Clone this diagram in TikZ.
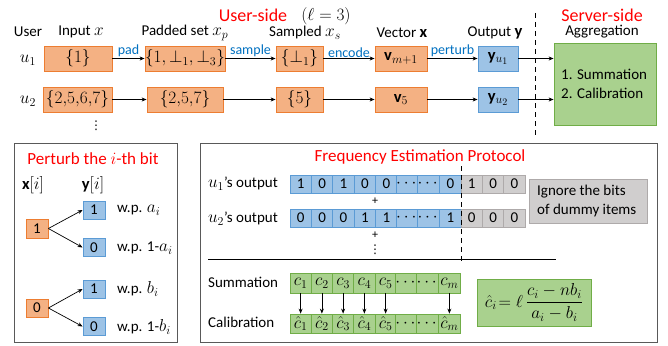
\documentclass[tikz,border=0pt]{standalone}
\usepackage{fontspec}
\setmainfont{Carlito}
\newfontfamily\dvfont{DejaVu Sans}
\usepackage{amsmath}
\DeclareMathSizes{15}{16.5}{12}{10}
\usetikzlibrary{arrows.meta}
\definecolor{orF}{HTML}{F4B183}
\definecolor{orD}{HTML}{ED7D31}
\definecolor{blF}{HTML}{9DC3E6}
\definecolor{blD}{HTML}{5B9BD5}
\definecolor{grF}{HTML}{A9D18E}
\definecolor{grD}{HTML}{70AD47}
\definecolor{gyF}{HTML}{D0CECE}
\definecolor{gyD}{HTML}{AEAAAA}
\definecolor{lblue}{HTML}{0070C0}
\definecolor{panel}{HTML}{595959}
\tikzset{
  txt/.style={font=\fontsize{15}{18}\selectfont, inner sep=0pt},
  ttl/.style={font=\fontsize{18}{22}\selectfont, text=red, inner sep=0pt},
  sttl/.style={font=\fontsize{17}{20}\selectfont, text=red, inner sep=0pt},
  ob/.style={draw=orD, fill=orF, line width=0.8pt, minimum height=25, inner sep=0pt, font=\fontsize{15}{18}\selectfont},
  bb/.style={draw=blD, fill=blF, line width=0.8pt, minimum height=25, inner sep=0pt, font=\fontsize{15}{18}\selectfont},
  gb/.style={draw=grD, fill=grF, line width=0.8pt, inner sep=0pt, font=\fontsize{15}{18}\selectfont},
  yb/.style={draw=gyD, fill=gyF, line width=0.8pt, inner sep=0pt, font=\fontsize{15}{18}\selectfont},
  arr/.style={-{Stealth[length=5pt,width=4pt]}, line width=0.7pt},
  lab/.style={above, inner sep=1pt, text=lblue, font=\fontsize{14}{17}\selectfont},
  pnl/.style={draw=panel, line width=0.8pt},
  sml/.style={font=\fontsize{12}{14}\selectfont, inner sep=0pt},
  vdt/.style={font=\dvfont\fontsize{12}{14}\selectfont, inner sep=0pt},
}
\begin{document}
\begin{tikzpicture}[x=1pt,y=-1pt]
\useasboundingbox (0,0) rectangle (668,345);
% ---------------- top: user side -----------------
\node[ttl] (us) at (253,15) {User-side};
\node[txt] (ell) at (326,16) {$(\ell = 3)$};
\node[ttl] (ss) at (602,15) {Server-side};
\node[txt] (hU) at (28,32) {User};
\node[txt] (hI) at (81,32) {Input $x$};
\node[txt] (hP) at (185,33) {Padded set $x_p$};
\node[txt] (hS) at (305,33) {Sampled $x_s$};
\node[txt] (hV) at (402,33) {Vector $\mathbf{x}$};
\node[txt] (hO) at (495,33) {Output $\mathbf{y}$};
\node[txt] (hA) at (602,32) {Aggregation};
\node[txt] (u1) at (28,60) {$u_1$};
\node[txt] (u2) at (28,101) {$u_2$};
\node[vdt] (vd) at (96,126) {⋮};

\node[ob, minimum width=68] (a1) at (78,58.5) {$\{1\}$};
\node[ob, minimum width=69] (a2) at (77.5,99.5) {$\{2{,}5{,}6{,}7\}$};
\node[ob, minimum width=76] (p1) at (185,58.5) {$\{1,\bot_1,\bot_3\}$};
\node[ob, minimum width=76] (p2) at (185,99.5) {$\{2{,}5{,}7\}$};
\node[ob, minimum width=47] (s1) at (299.5,58.5) {$\{\bot_1\}$};
\node[ob, minimum width=47] (s2) at (299.5,99.5) {$\{5\}$};
\node[ob, minimum width=52] (v1) at (401,58.5) {$\mathbf{v}_{m+1}$};
\node[ob, minimum width=52] (v2) at (401,99.5) {$\mathbf{v}_5$};
\node[bb, minimum width=40] (y1) at (498,58.5) {$\mathbf{y}_{u_1}$};
\node[bb, minimum width=40] (y2) at (498,99.5) {$\mathbf{y}_{u_2}$};
\node[gb, minimum width=102, minimum height=82] (G) at (605,84) {};
\node[txt, anchor=west, align=left] (Gt) at (561,84) {1. Summation\\[1pt]2. Calibration};

\draw[arr] (a1) -- node[lab] {pad} (p1);
\draw[arr] (p1) -- node[lab] {sample} (s1);
\draw[arr] (s1) -- node[lab] {encode} (v1);
\draw[arr] (v1) -- node[lab] {perturb} (y1);
\draw[arr] (a2) -- (p2);
\draw[arr] (p2) -- (s2);
\draw[arr] (s2) -- (v2);
\draw[arr] (v2) -- (y2);
\draw[arr] (y1.east) -- (G.west |- y1.east);
\draw[arr] (y2.east) -- (G.west |- y2.east);
\coordinate (dT) at (535,13);
\coordinate (dB) at (535,137);
\draw[line width=1pt, dash pattern=on 5pt off 4pt] (dT) -- (dB);

% ---------------- bottom left panel -----------------
\draw[pnl] (14,143) rectangle (177,342);
\node[sttl] (pt) at (93,159) {Perturb the $i$-th bit};
\node[txt] (xi) at (33,185) {$\mathbf{x}[i]$};
\node[txt] (yi) at (93,185) {$\mathbf{y}[i]$};
\node[ob, minimum width=22, minimum height=19] (o1) at (37,228.5) {1};
\node[ob, minimum width=22, minimum height=18] (o0) at (37,308) {0};
\node[bb, minimum width=22, minimum height=18] (b11) at (94,210) {1};
\node[bb, minimum width=22, minimum height=18] (b10) at (94,247.5) {0};
\node[bb, minimum width=22, minimum height=18] (b01) at (94,289) {1};
\node[bb, minimum width=22, minimum height=18] (b00) at (94,326.5) {0};
\draw[arr] (o1.east) -- (b11.west);
\draw[arr] (o1.east) -- (b10.west);
\draw[arr] (o0.east) -- (b01.west);
\draw[arr] (o0.east) -- (b00.west);
\node[txt, anchor=west] (w1) at (117,210) {w.p. $a_i$};
\node[txt, anchor=west] (w2) at (117,248) {w.p. 1-$a_i$};
\node[txt, anchor=west] (w3) at (117,289) {w.p. $b_i$};
\node[txt, anchor=west] (w4) at (117,327) {w.p. 1-$b_i$};

% ---------------- bottom right panel -----------------
\draw[pnl] (200,143) rectangle (657,342);
\node[sttl] (fe) at (420,157) {Frequency Estimation Protocol};
\node[txt, anchor=east] (l1) at (278,184) {$u_1$’s output};
\node[txt, anchor=east] (l2) at (278,219) {$u_2$’s output};
\foreach \t [count=\k] in {1,0,1,0,0,$\cdots$,$\cdots$,0}
  \node[bb, minimum width=21.4, minimum height=18] (ra\k) at ({290+21.4*(\k-0.5)},184) {\t};
\foreach \t [count=\k] in {0,0,0,1,1,$\cdots$,$\cdots$,1}
  \node[bb, minimum width=21.4, minimum height=18] (rb\k) at ({290+21.4*(\k-0.5)},218) {\t};
\foreach \t [count=\k] in {1,0,0}
  \node[yb, minimum width=21.4, minimum height=18] (ga\k) at ({461+21.4*(\k-0.5)},184) {\t};
\foreach \t [count=\k] in {0,0,0}
  \node[yb, minimum width=21.4, minimum height=18] (gb\k) at ({461+21.4*(\k-0.5)},218) {\t};
\node[sml] (pl1) at (375,201.5) {+};
\node[sml] (pl2) at (375,235.5) {+};
\node[vdt] (vd2) at (375,250) {⋮};
\coordinate (eT) at (461,166);
\coordinate (eB) at (461,262);
\draw[line width=1pt, dash pattern=on 5pt off 4pt] (eT) -- (eB);
\node[yb, minimum width=118, minimum height=44] (ig) at (588,201) {};
\node[txt, anchor=west, align=left] (igt) at (537,201) {Ignore the bits\\[1pt]of dummy items};
\coordinate (hL) at (208,259.5);
\coordinate (hR) at (556,259.5);
\draw[line width=1.5pt] (hL) -- (hR);
\node[txt, anchor=west] (sm) at (208,282) {Summation};
\node[txt, anchor=west] (cb) at (208,322) {Calibration};
\foreach \t [count=\k] in {$c_1$,$c_2$,$c_3$,$c_4$,$c_5$,$\cdots$,$\cdots$,$c_m$}
  \node[gb, minimum width=21.25, minimum height=20] (c\k) at ({290+21.25*(\k-0.5)},283) {\t};
\foreach \t [count=\k] in {$\hat c_1$,$\hat c_2$,$\hat c_3$,$\hat c_4$,$\hat c_5$,$\cdots$,$\cdots$,$\hat c_m$}
  \node[gb, minimum width=21.25, minimum height=19] (h\k) at ({290+21.25*(\k-0.5)},323.5) {\t};
\foreach \k in {1,2,3,4,5,8}
  \draw[arr] (c\k.south) -- (h\k.north);
\node[gb, minimum width=114, minimum height=47] (fm) at (534,302.5)
  {$\hat{c}_i\!= \ell\,\dfrac{c_i - n b_i}{a_i - b_i}$};
\end{tikzpicture}
\end{document}
